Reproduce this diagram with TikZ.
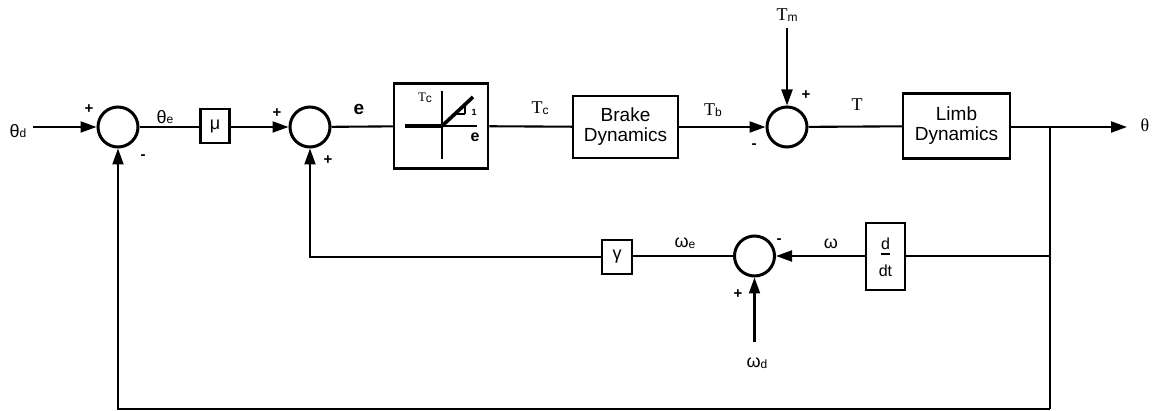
\documentclass[tikz,border=0pt]{standalone}
\usepackage{fontspec}
\setmainfont{Liberation Sans}
\newfontfamily\serf{Liberation Serif}
\newfontfamily\sanf{Liberation Sans}
\usetikzlibrary{arrows.meta}
\newcommand\sbs[1]{\raisebox{-0.5pt}{\sanf\fontsize{12}{12}\selectfont #1}}
\begin{document}
\begin{tikzpicture}[x=1pt,y=-1pt,
  sumnode/.style={circle,draw,line width=3pt,minimum size=40pt,inner sep=0pt},
  blk/.style={draw,line width=2.5pt,inner sep=0pt,align=center},
  wire/.style={line width=2.1pt},
  arr/.style={wire,-{Triangle[length=16pt,width=11pt]}},
  sgn/.style={inner sep=0pt,font=\fontsize{15}{15}\selectfont\bfseries},
  lab/.style={inner sep=0pt,font=\fontsize{18}{18}\selectfont},
  tlab/.style={inner sep=0pt,font=\fontsize{18}{18}\selectfont\serf}]
\useasboundingbox[fill=white] (0,0) rectangle (1154,411);

% main row
\node[sumnode] (s1) at (118,127) {};
\node[blk,minimum width=29pt,minimum height=34pt,font=\fontsize{18}{18}\selectfont] (mu) at (215,126) {μ};
\node[sumnode] (s2) at (310,127) {};
\node[blk,minimum width=94pt,minimum height=85pt] (sat) at (441,126) {};
\node[blk,minimum width=105pt,minimum height=62pt,font=\fontsize{19}{20}\selectfont] (brake) at (625.5,127) {Brake\\Dynamics};
\node[sumnode] (s3) at (787,127) {};
\node[blk,minimum width=107pt,minimum height=65pt,font=\fontsize{19}{20}\selectfont] (limb) at (956.5,126) {Limb\\Dynamics};

% lower row
\node[sumnode] (s4) at (754.5,256) {};
\node[blk,minimum width=30pt,minimum height=34pt,font=\fontsize{18}{18}\selectfont] (gam) at (617,257) {γ};
\node[blk,minimum width=39pt,minimum height=67pt] (ddt) at (885.5,256.5) {};
\node[inner sep=0pt,font=\fontsize{16}{16}\selectfont] (dnum) at (885.5,244) {d};
\node[inner sep=0pt,font=\fontsize{16}{16}\selectfont] (dden) at (885.5,271) {dt};
\draw[line width=1.5pt] (881,254) -- (890,254);

% saturation characteristic
\draw[line width=2pt] (442,91) -- (442,159);
\draw[line width=3.2pt] (405,126) -- (442,126);
\draw[line width=1.5pt] (442,126) -- (477,126);
\draw[line width=3.6pt] (442,126) -- (473,97);
\draw[line width=1.5pt] (455,114) -- (465,114);
\draw[line width=2.2pt] (465,114) -- (465,104);
\node[inner sep=0pt,font=\fontsize{13}{13}\selectfont\serf] (stc) at (425,98) {T\sbs{c}};
\node[inner sep=0pt,font=\fontsize{9}{9}\selectfont\bfseries] (sone) at (474,112) {1};
\node[inner sep=0pt,font=\fontsize{16}{16}\selectfont\bfseries] (se) at (475,137) {e};

% labels
\node[lab] (lthd) at (18,131) {θ\sbs{d}};
\node[lab] (lthe) at (165,117) {θ\sbs{e}};
\node[lab,font=\fontsize{19}{19}\selectfont\bfseries] (le) at (359,109) {e};
\node[tlab] (ltc) at (540,108) {T\sbs{c}};
\node[tlab] (ltb) at (713,110) {T\sbs{b}};
\node[tlab] (ltm) at (787,15) {T\sbs{m}};
\node[tlab] (lt) at (857,105) {T};
\node[tlab] (lth) at (1145,125) {θ};
\node[lab] (lwe) at (685,243) {ω\sbs{e}};
\node[lab] (lw) at (831,244) {ω};
\node[lab] (lwd) at (757,363) {ω\sbs{d}};

% signs
\node[sgn] (p1) at (89,109) {+};
\node[sgn] (m1) at (143,157) {-};
\node[sgn] (p2) at (277,113) {+};
\node[sgn] (p2b) at (328,160) {+};
\node[sgn] (m3) at (754,146) {-};
\node[sgn] (p3) at (806,95) {+};
\node[sgn] (m4) at (779,241) {-};
\node[sgn] (p4) at (738,294) {+};

% coordinates
\coordinate (thdst) at (33,127);
\coordinate (tmst) at (787,28);
\coordinate (wdst) at (754.5,342);
\coordinate (br) at (1050,127);
\coordinate (out) at (1127,127);
\coordinate (brd) at (1050,256);
\coordinate (bot) at (1050,409);

% connectors
\draw[arr] (thdst) -- (s1);
\draw[wire] (s1) -- (s1 -| mu.west);
\draw[arr] (s2 -| mu.east) -- (s2);
\draw[wire] (s2) -- (sat);
\draw[wire] (sat) -- (brake);
\draw[arr] (brake) -- (s3);
\draw[wire] (s3) -- (limb);
\draw[arr] (limb.east |- br) -- (out);
\draw[arr] (tmst) -- (s3);
\draw[wire] (br) -- (bot);
\draw[arr] (bot) -| (s1);
\draw[wire] (brd) -- (ddt.east |- brd);
\draw[arr] (ddt.west |- s4) -- (s4);
\draw[wire] (s4) -- (s4 -| gam.east);
\draw[arr] (gam) -| (s2);
\draw[arr] (wdst) -- (s4);
\end{tikzpicture}
\end{document}
